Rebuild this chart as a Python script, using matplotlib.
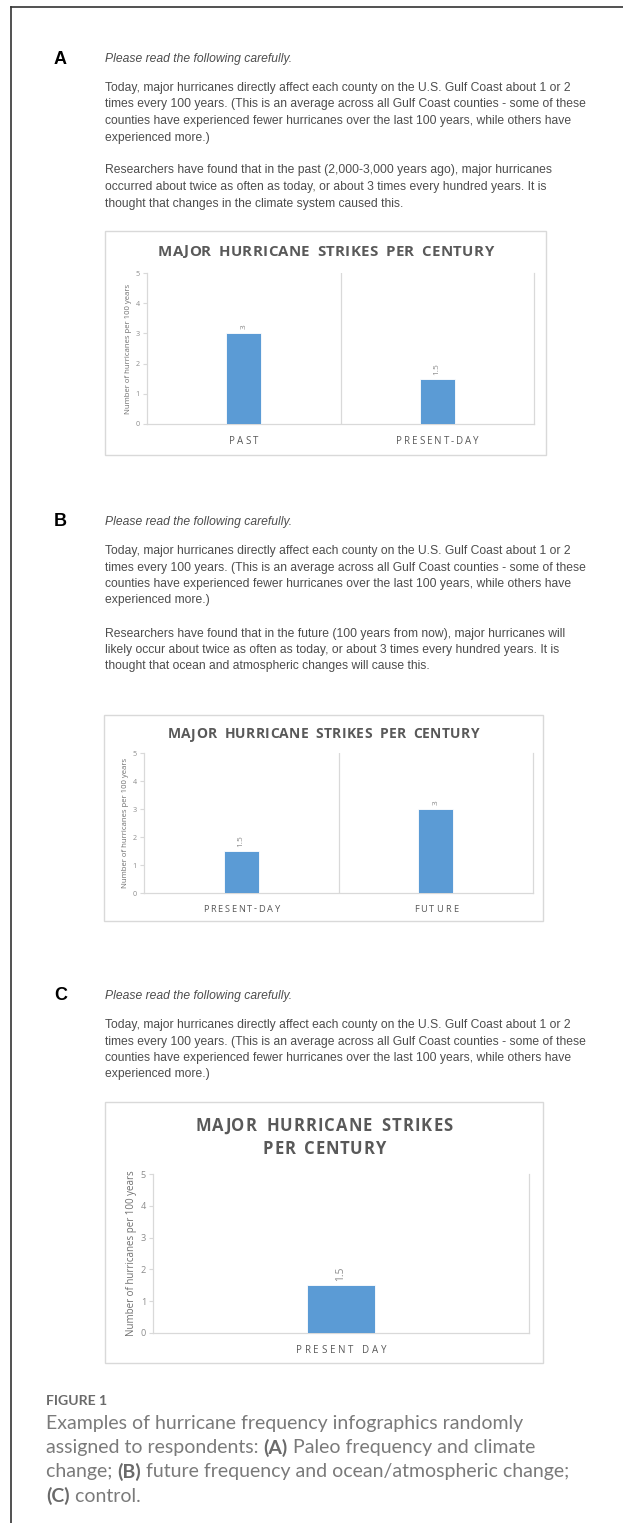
import matplotlib
matplotlib.use('Agg')
import matplotlib.pyplot as plt
from matplotlib.font_manager import FontProperties
from matplotlib.patches import Rectangle
from matplotlib.lines import Line2D

W, H = 623, 1523

# chart data
cats_a = ['PAST', 'PRESENT-DAY']
vals_a = [3, 1.5]
cats_b = ['PRESENT-DAY', 'FUTURE']
vals_b = [1.5, 3]
cats_c = ['PRESENT DAY']
vals_c = [1.5]
yticks = [0, 1, 2, 3, 4, 5]

chart_title = 'MAJOR HURRICANE STRIKES PER CENTURY'
ylabel = 'Number of hurricanes per 100 years'
intro = 'Please read the following carefully.'
para_today = ['Today, major hurricanes directly affect each county on the U.S. Gulf Coast about 1 or 2',
              'times every 100 years. (This is an average across all Gulf Coast counties - some of these',
              'counties have experienced fewer hurricanes over the last 100 years, while others have',
              'experienced more.)']
para_a = ['Researchers have found that in the past (2,000-3,000 years ago), major hurricanes',
          'occurred about twice as often as today, or about 3 times every hundred years. It is',
          'thought that changes in the climate system caused this.']
para_b = ['Researchers have found that in the future (100 years from now), major hurricanes will',
          'likely occur about twice as often as today, or about 3 times every hundred years. It is',
          'thought that ocean and atmospheric changes will cause this.']
caption = [[('Examples of hurricane frequency infographics randomly', False)],
           [('assigned to respondents: ', False), ('(A)', True), (' Paleo frequency and climate', False)],
           [('change; ', False), ('(B)', True), (' future frequency and ocean/atmospheric change;', False)],
           [('(C)', True), (' control.', False)]]

BAR = '#5b9bd5'
GRID = '#d9d9d9'
TXT = '#595959'
TICK = '#8c8c8c'
BODY = '#4d4d4d'

fig = plt.figure(figsize=(W / 100, H / 100), dpi=100)
fig.patch.set_facecolor('white')
rend = fig.canvas.get_renderer()


def fx(x):
    return x / W


def fy(y):
    return 1 - y / H


def twidth(s, prop):
    return rend.get_text_width_height_descent(s, prop, ismath=False)[0]


def fit_size(s, target, **kw):
    p = FontProperties(size=10, **kw)
    return 10 * target / twidth(s, p)


def advance(ch, prop):
    # width a character takes up, measured between two capital H's
    return twidth('H' + ch + 'H', prop) - twidth('HH', prop)


def spaced(xc, yc, s, width, prop, color, word_extra=0.0):
    # letter-spaced caps centred on (xc, yc), stretched to the given width
    adv = [advance(ch, prop) + (word_extra if ch == ' ' else 0) for ch in s]
    track = (width - sum(adv)) / (len(s) - 1) if len(s) > 1 else 0
    x = xc - width / 2
    for ch, a in zip(s, adv):
        if ch != ' ':
            fig.text(fx(x + a / 2), fy(yc), ch, ha='center', va='center_baseline',
                     fontproperties=prop, color=color)
        x += a + track


# frame around the figure
fig.add_artist(Line2D([fx(11), fx(11)], [fy(7), 0], transform=fig.transFigure, color='#333333', lw=1.2))
fig.add_artist(Line2D([fx(11), 1], [fy(7), fy(7)], transform=fig.transFigure, color='#333333', lw=1.2))

body_size = fit_size(para_today[0], 466, family='Liberation Sans')
body_prop = FontProperties(family='Liberation Sans', size=body_size)
ital_prop = FontProperties(family='Liberation Sans', size=body_size, style='italic')
letter_prop = FontProperties(family='Liberation Sans', size=13, weight='bold')


def text_block(letter, y0, paras, gap=16.5, para_gap=33):
    fig.text(fx(54), fy(y0), letter, ha='left', va='center', fontproperties=letter_prop, color='black')
    fig.text(fx(105), fy(y0), intro, ha='left', va='center', fontproperties=ital_prop, color=BODY)
    y = y0 + 29
    for para in paras:
        for line in para:
            fig.text(fx(105), fy(y), line, ha='left', va='center', fontproperties=body_prop, color=BODY)
            y += gap
        y += para_gap - gap


def chart(box, axbox, cats, vals, titles, tick_size, lab_size, cat_y, cat_ws, cat_size):
    bx0, by0, bx1, by1 = box
    fig.add_artist(Rectangle((fx(bx0), fy(by1)), (bx1 - bx0) / W, (by1 - by0) / H,
                             transform=fig.transFigure, fill=False, ec=GRID, lw=1))
    ax0, ay0, ax1, ay1 = axbox
    ax = fig.add_axes([fx(ax0), fy(ay1), (ax1 - ax0) / W, (ay1 - ay0) / H])
    n = len(cats)
    x = list(range(n))
    ax.bar(x, vals, width=0.18, color=BAR, edgecolor='white', linewidth=0.6, zorder=3)
    ax.set_xlim(-0.5, n - 0.5)
    ax.set_ylim(0, 5)
    ax.set_yticks(yticks)
    ax.set_xticks([])
    ax.spines['top'].set_visible(False)
    for sp in ['left', 'right', 'bottom']:
        ax.spines[sp].set_color(GRID)
        ax.spines[sp].set_linewidth(0.9)
    for b in range(1, n):
        ax.axvline(b - 0.5, color=GRID, lw=0.9)
    ax.tick_params(axis='y', length=3, width=0.8, color=GRID, labelsize=tick_size,
                   labelcolor=TICK, pad=2)
    for lab in ax.get_yticklabels():
        lab.set_family('Open Sans')
    ax.set_ylabel(ylabel, fontsize=lab_size, color='#6f6f6f', family='Open Sans', labelpad=3)
    for xi, v in zip(x, vals):
        ax.annotate(f'{v:g}', (xi, v), xytext=(0, 3), textcoords='offset points',
                    rotation=90, ha='center', va='bottom', fontsize=tick_size + 0.8,
                    color=TICK, family='Open Sans')
    # category labels under each bar
    cprop = FontProperties(family='Open Sans', size=cat_size)
    for xi, c, cw in zip(x, cats, cat_ws):
        xc = ax0 + (xi + 0.5) / n * (ax1 - ax0)
        spaced(xc, cat_y, c, cw, cprop, TXT)
    # title lines: (text, centre y, width, size)
    tc = (bx0 + bx1) / 2
    for tl, ty, tw, ts in titles:
        tprop = FontProperties(family='Open Sans', weight='bold', size=ts)
        spaced(tc, ty, tl, tw, tprop, TXT, word_extra=3)
    return ax


# panel A
text_block('A', 59, [para_today, para_a])
chart((105, 231, 546, 455), (147, 273, 534, 424), cats_a, vals_a,
      [(chart_title, 250, 335, 10.8)], 5.2, 5.6, 440, [29, 83], 7.0)

# panel B
text_block('B', 522, [para_today, para_b])
chart((104, 715, 543, 921), (144, 753, 533, 893), cats_b, vals_b,
      [(chart_title, 733, 311, 10.0)], 5.2, 5.6, 908, [77, 44], 6.7)

# panel C
text_block('C', 996, [para_today])
chart((105, 1102, 543, 1363), (153, 1174, 529, 1333), cats_c, vals_c,
      [('MAJOR HURRICANE STRIKES', 1124, 257, 12.0), ('PER CENTURY', 1147, 122, 12.0)],
      6.6, 7.0, 1349, [90], 7.0)

# caption
cap_size = fit_size(caption[0][0][0], 476, family='Lato')
fig.text(fx(46), fy(1401), 'FIGURE 1', ha='left', va='center', family='Lato', weight='bold',
         size=cap_size * 0.72, color='#6a6a6a')
for k, parts in enumerate(caption):
    x = 46
    y = 1424 + k * 24
    for s, bold in parts:
        prop = FontProperties(family='Lato', size=cap_size, weight='bold' if bold else 'normal')
        fig.text(fx(x), fy(y), s, ha='left', va='center', fontproperties=prop,
                 color='#6a6a6a' if bold else '#7a7a7a')
        x += twidth(s, prop)

fig.savefig('out.png', dpi=100, facecolor='white')
